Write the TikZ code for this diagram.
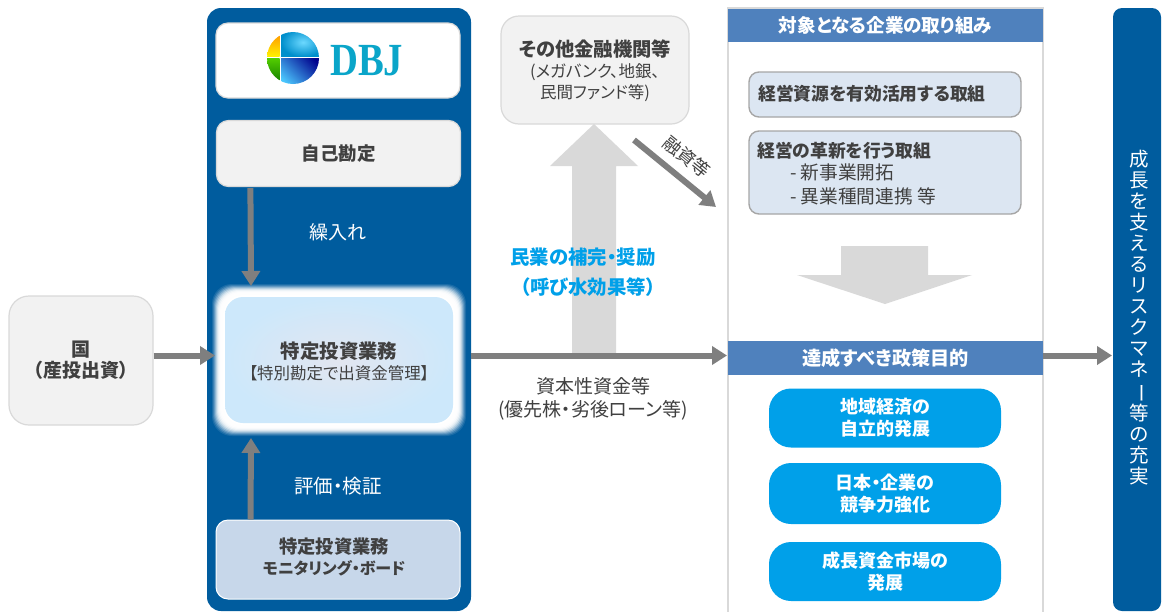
\documentclass[tikz,border=0pt]{standalone}
\usepackage{fontspec}
\setmainfont{Noto Sans CJK JP}[RawFeature=+palt]
\newfontfamily\logofont{Liberation Serif}
\usetikzlibrary{arrows.meta,calc}
\definecolor{dbjblue}{HTML}{005C9E}
\definecolor{headblue}{HTML}{4F81BD}
\definecolor{pillblue}{HTML}{00A0E9}
\definecolor{txt}{HTML}{404040}
\definecolor{paleg}{HTML}{F2F2F2}
\definecolor{edgeg}{HTML}{D9D9D9}
\definecolor{arrowg}{HTML}{7F7F7F}
\definecolor{lightg}{HTML}{D9D9D9}
\definecolor{glowin}{HTML}{E2E6F0}
\definecolor{glowout}{HTML}{CDE8FB}
\definecolor{logocy}{HTML}{0AA5C9}
\newcommand{\fsA}{\fontsize{17.8pt}{22pt}\selectfont}
\newcommand{\fsP}{\fontsize{18pt}{22pt}\selectfont}
\newcommand{\fsL}{\fontsize{19pt}{22pt}\selectfont}
\tikzset{
  box/.style={rounded corners=#1,draw=edgeg,line width=1.2pt,fill=paleg,text=txt,align=center,inner sep=0pt,font=\fsA},
  box/.default=12pt,
  bluebox/.style={rounded corners=10pt,draw=black!35,line width=1.4pt,fill=headblue!20,text=txt,inner sep=0pt},
  pill/.style={rounded corners=22pt,fill=pillblue,text=white,align=center,font=\fsP\bfseries,inner sep=0pt,minimum width=232pt},
  headbar/.style={fill=headblue,text=white,inner sep=0pt,minimum width=315pt},
  conn/.style={draw=arrowg,line width=6pt,-{Triangle[length=15pt,width=18pt]},shorten >=0pt},
  lbl/.style={text=txt,align=center,font=\fsL,inner sep=0pt},
}
\begin{document}
\begin{tikzpicture}[x=1pt,y=-1pt]
\useasboundingbox (0,0) rectangle (1162,611);
\fill[white] (0,0) rectangle (1162,611);

% panels
\fill[dbjblue,rounded corners=14pt] (207,8) rectangle (471,611);
\draw[edgeg,line width=1.2pt,fill=white] (728,612) -- (728,8) -- (1043,8) -- (1043,612);
\fill[dbjblue,rounded corners=9pt] (1113,8) rectangle (1161,611);

% left column
\node[box=20pt,minimum width=144pt,minimum height=129pt,font=\fontsize{19pt}{22pt}\selectfont] (kuni) at (81,360.5) {\textbf{国}\\[-1pt]\textbf{（産投出資）}};
\node[box,draw=edgeg,fill=white,minimum width=244pt,minimum height=75pt] (logo) at (338,60.5) {};
\node[box,draw=edgeg,minimum width=244pt,minimum height=66pt,font=\fontsize{18.5pt}{22pt}\selectfont\bfseries] (jiko) at (338.5,153.5) {自己勘定};

% glowing box
\foreach \g/\o in {13/0.1,12/0.15,11/0.2,10/0.28,9/0.36,8/0.46,7/0.56,6/0.66,5/0.76,4/0.86,3/0.95,2/1}{
  \fill[white,opacity=\o,rounded corners=20pt] (225-\g,297-\g) rectangle (453+\g,423+\g);
}
\shade[rounded corners=18pt,inner color=glowin,outer color=glowout] (225,297) rectangle (453,423);
\node[inner sep=0pt,minimum width=228pt,minimum height=126pt,align=center,text=txt] (tokutei) at (339,361)
  {{\fontsize{19.4pt}{24pt}\selectfont\textbf{特定投資業務}}\\[4pt]{\fontsize{16.5pt}{20pt}\selectfont【特別勘定で出資金管理】}};

\node[box,draw=white,line width=1pt,fill=headblue!32,minimum width=244pt,minimum height=79pt,text depth=0pt] (board) at (338,559.5) {};
\node[inner sep=0pt,text=txt,align=center,font=\fontsize{18.3pt}{22pt}\selectfont\bfseries] (boardt) at (334,557) {特定投資業務\\[-1pt]{\fontsize{16pt}{22pt}\selectfont モニタリング・ボード}};

% logo mark
\begin{scope}
\clip (293,58) circle (26);
\shade[top color=orange,bottom color=yellow!90!orange] (260,28) rectangle (279.5,56.5);
\shade[top color=green!60!yellow!80!black,bottom color=green!40!black] (260,58.5) rectangle (279.5,90);
\shade[inner color=cyan!50!white!85!blue,outer color=cyan!70!blue!80!black] (281,28) rectangle (325,56.5);
\shade[left color=blue!30!cyan!70!white,right color=blue!55!black,shading angle=135] (281,58.5) rectangle (325,90);
\end{scope}
\node[inner sep=0pt,anchor=west,text=logocy,font=\logofont\bfseries\fontsize{46pt}{46pt}\selectfont] (dbj) at (330,61) {\scalebox{.84}[1]{DBJ}};

% other institutions
\fill[lightg] (572,356) -- (572,166) -- (550,166) -- (594,124) -- (638,166) -- (616,166) -- (616,356) -- cycle;
\node[box=18pt,minimum width=188pt,minimum height=108pt] (other) at (595,70) {};
\node[inner sep=0pt,text=txt,align=center] (othert) at (595,70.5) {{\fontsize{19.3pt}{22pt}\selectfont\textbf{その他金融機関等}}\\[5pt]{\fontsize{16.5pt}{21pt}\selectfont (メガバンク、地銀、}\\[2.5pt]{\fontsize{16.5pt}{21pt}\selectfont 民間ファンド等)}};

\coordinate (finfrom) at (634,140);
\coordinate (finto) at (716,207);
\draw[conn] (finfrom) -- (finto);
\node[lbl,rotate=-39,font=\fontsize{18pt}{21pt}\selectfont] (yushi) at (687,157) {融資等};

% labels in the panel
\node[lbl,text=white] (kuri) at (338,232) {繰入れ};
\node[lbl,text=white,font=\fontsize{19.5pt}{22pt}\selectfont] (hyoka) at (338,486) {評価・検証};

% centre labels
\node[lbl,text=pillblue,font=\fontsize{19.4pt}{22pt}\selectfont\bfseries] (hokan) at (583,257) {民業の補完・奨励};
\node[lbl,text=pillblue,font=\fontsize{19.4pt}{22pt}\selectfont\bfseries] (yobi) at (588,287) {（呼び水効果等）};
\node[lbl] (shihon) at (593,386) {資本性資金等};
\node[lbl] (yusen) at (593,410) {(優先株・劣後ローン等)};

% right panel
\node[headbar,minimum height=33pt,font=\fontsize{18.6pt}{22pt}\selectfont\bfseries] (head1) at (885.5,25) {対象となる企業の取り組み};
\node[bluebox,minimum width=272pt,minimum height=45pt] (res) at (885,94.5) {};
\node[anchor=west,inner sep=0pt,text=txt,font=\fsA\bfseries] (restext) at (758,94) {経営資源を有効活用する取組};
\node[bluebox,minimum width=272pt,minimum height=83pt] (inno) at (885,172.5) {};
\node[anchor=west,inner sep=0pt,text=txt,font=\fsA\bfseries] (innot) at (757,151) {経営の革新を行う取組};
\node[anchor=west,inner sep=0pt,text=txt,font=\fontsize{18.7pt}{22pt}\selectfont] (innoa) at (790,172.5) {- 新事業開拓};
\node[anchor=west,inner sep=0pt,text=txt,font=\fontsize{18.7pt}{22pt}\selectfont] (innob) at (790,196) {- 異業種間連携 等};
\fill[lightg] (841,246) -- (928,246) -- (928,275) -- (972,275) -- (885,304) -- (797,275) -- (841,275) -- cycle;
\node[headbar,minimum height=34pt,font=\fontsize{19.2pt}{22pt}\selectfont\bfseries] (head2) at (885.5,358) {達成すべき政策目的};
\node[pill,minimum height=59pt] (p1) at (885,418) {地域経済の\\[0pt]自立的発展};
\node[pill,minimum height=61pt] (p2) at (885,493.5) {日本・企業の\\[0pt]競争力強化};
\node[pill,minimum height=59pt] (p3) at (885,571.5) {成長資金市場の\\[0pt]発展};

% right bar text
\node[inner sep=0pt,text=white,align=center,text width=24pt,font=\fontsize{19.5pt}{21pt}\selectfont] (risk) at (1139,318)
 {成\\長\\を\\支\\え\\る\\リ\\ス\\ク\\マ\\ネ\\\rotatebox[origin=c]{-90}{ー}\\等\\の\\充\\実};
\coordinate (riskin) at (1112,355);

% connectors
\coordinate (jikoout) at ($(jiko.south west)+(34.5,1)$);
\coordinate (tokin) at (251,286);
\draw[conn] (jikoout) -- (tokin);
\coordinate (boardout) at ($(board.north west)+(35,0)$);
\coordinate (tokin2) at (251,438);
\draw[conn] (boardout) -- (tokin2);
\coordinate (tokleft) at (215,355.5);
\draw[conn] (kuni.east |- tokleft) -- (tokleft);
\coordinate (midin) at (727,355.5);
\coordinate (panelout) at (471,355.5);
\draw[conn] (panelout) -- (midin);
\coordinate (panelr) at (1043,355.5);
\draw[conn] (panelr) -- (riskin |- panelr);
\end{tikzpicture}
\end{document}
